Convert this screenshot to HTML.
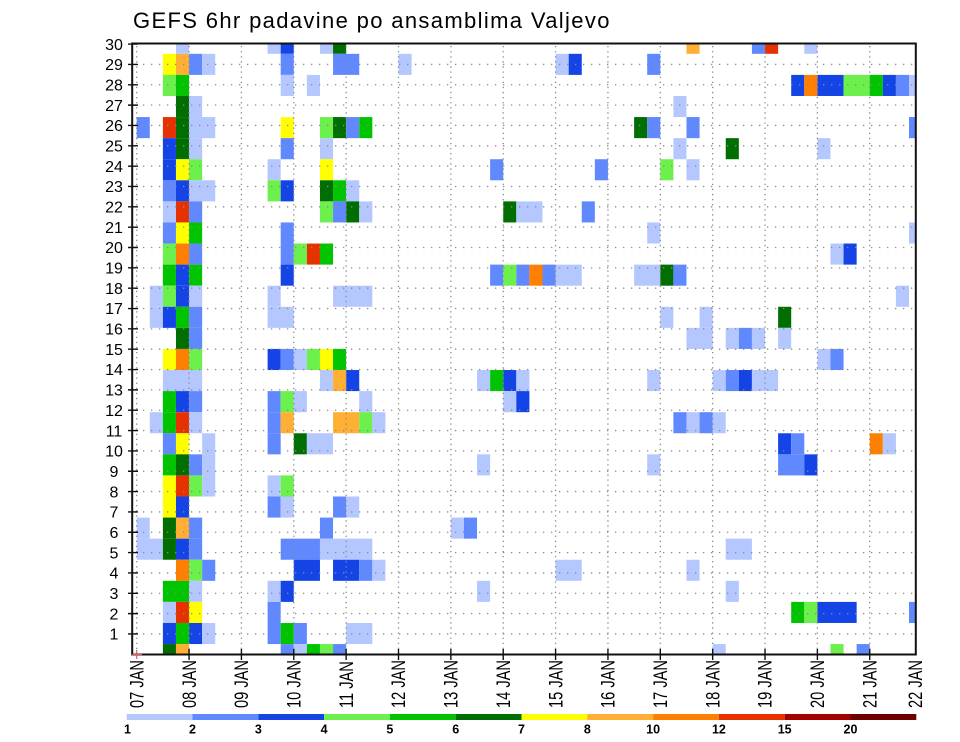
<!DOCTYPE html>
<html><head><meta charset="utf-8">
<style>
html,body{margin:0;padding:0;background:#fff;}
svg{display:block;}
.L{fill:#b4c8ff}.M{fill:#6088ff}.D{fill:#1444e6}.g{fill:#6cf04c}.G{fill:#00c400}.K{fill:#006e00}
.Y{fill:#ffff00}.O{fill:#ffb034}.R{fill:#ff8000}.E{fill:#e63200}.F{fill:#a50000}.Z{fill:#6e0000}
text{font-family:"Liberation Sans",Arial,sans-serif;fill:#000;}
</style></head>
<body>
<svg width="960" height="742" viewBox="0 0 960 742" xmlns="http://www.w3.org/2000/svg">
<defs><clipPath id="pc"><rect x="132" y="43.5" width="784" height="611"/></clipPath></defs>
<rect width="960" height="742" fill="#fff"/>
<text x="133" y="28" font-size="22" letter-spacing="1.35">GEFS 6hr padavine po ansamblima Valjevo</text>

<g clip-path="url(#pc)">
<g transform="translate(136.7,644.06) scale(13.09,21.08)">
<!-- j29 -->
<rect x="3" y="-29" width="1" height="1" class="L"/><rect x="10" y="-29" width="1" height="1" class="L"/><rect x="11" y="-29" width="1" height="1" class="D"/><rect x="14" y="-29" width="1" height="1" class="L"/><rect x="15" y="-29" width="1" height="1" class="K"/><rect x="42" y="-29" width="1" height="1" class="O"/><rect x="47" y="-29" width="1" height="1" class="M"/><rect x="48" y="-29" width="1" height="1" class="E"/><rect x="51" y="-29" width="1" height="1" class="L"/>
<!-- j28 -->
<rect x="2" y="-28" width="1" height="1" class="Y"/><rect x="3" y="-28" width="1" height="1" class="O"/><rect x="4" y="-28" width="1" height="1" class="M"/><rect x="5" y="-28" width="1" height="1" class="L"/><rect x="11" y="-28" width="1" height="1" class="M"/><rect x="15" y="-28" width="2" height="1" class="M"/><rect x="20" y="-28" width="1" height="1" class="L"/><rect x="32" y="-28" width="1" height="1" class="L"/><rect x="33" y="-28" width="1" height="1" class="D"/><rect x="39" y="-28" width="1" height="1" class="M"/>
<!-- j27 -->
<rect x="2" y="-27" width="1" height="1" class="g"/><rect x="3" y="-27" width="1" height="1" class="G"/><rect x="11" y="-27" width="1" height="1" class="L"/><rect x="13" y="-27" width="1" height="1" class="L"/><rect x="50" y="-27" width="1" height="1" class="D"/><rect x="51" y="-27" width="1" height="1" class="R"/><rect x="52" y="-27" width="2" height="1" class="D"/><rect x="54" y="-27" width="2" height="1" class="g"/><rect x="56" y="-27" width="1" height="1" class="G"/><rect x="57" y="-27" width="1" height="1" class="D"/><rect x="58" y="-27" width="1" height="1" class="M"/><rect x="59" y="-27" width="1" height="1" class="L"/>
<!-- j26 -->
<rect x="3" y="-26" width="1" height="1" class="K"/><rect x="4" y="-26" width="1" height="1" class="L"/><rect x="41" y="-26" width="1" height="1" class="L"/>
<!-- j25 -->
<rect x="0" y="-25" width="1" height="1" class="M"/><rect x="2" y="-25" width="1" height="1" class="E"/><rect x="3" y="-25" width="1" height="1" class="K"/><rect x="4" y="-25" width="2" height="1" class="L"/><rect x="11" y="-25" width="1" height="1" class="Y"/><rect x="14" y="-25" width="1" height="1" class="g"/><rect x="15" y="-25" width="1" height="1" class="K"/><rect x="16" y="-25" width="1" height="1" class="M"/><rect x="17" y="-25" width="1" height="1" class="G"/><rect x="38" y="-25" width="1" height="1" class="K"/><rect x="39" y="-25" width="1" height="1" class="M"/><rect x="42" y="-25" width="1" height="1" class="M"/><rect x="59" y="-25" width="1" height="1" class="M"/>
<!-- j24 -->
<rect x="2" y="-24" width="1" height="1" class="D"/><rect x="3" y="-24" width="1" height="1" class="K"/><rect x="4" y="-24" width="1" height="1" class="L"/><rect x="11" y="-24" width="1" height="1" class="M"/><rect x="14" y="-24" width="1" height="1" class="L"/><rect x="41" y="-24" width="1" height="1" class="L"/><rect x="45" y="-24" width="1" height="1" class="K"/><rect x="52" y="-24" width="1" height="1" class="L"/>
<!-- j23 -->
<rect x="2" y="-23" width="1" height="1" class="D"/><rect x="3" y="-23" width="1" height="1" class="Y"/><rect x="4" y="-23" width="1" height="1" class="g"/><rect x="10" y="-23" width="1" height="1" class="L"/><rect x="14" y="-23" width="1" height="1" class="Y"/><rect x="27" y="-23" width="1" height="1" class="M"/><rect x="35" y="-23" width="1" height="1" class="M"/><rect x="40" y="-23" width="1" height="1" class="g"/><rect x="42" y="-23" width="1" height="1" class="L"/>
<!-- j22 -->
<rect x="2" y="-22" width="1" height="1" class="M"/><rect x="3" y="-22" width="1" height="1" class="D"/><rect x="4" y="-22" width="2" height="1" class="L"/><rect x="10" y="-22" width="1" height="1" class="g"/><rect x="11" y="-22" width="1" height="1" class="D"/><rect x="14" y="-22" width="1" height="1" class="K"/><rect x="15" y="-22" width="1" height="1" class="G"/><rect x="16" y="-22" width="1" height="1" class="L"/>
<!-- j21 -->
<rect x="2" y="-21" width="1" height="1" class="L"/><rect x="3" y="-21" width="1" height="1" class="E"/><rect x="4" y="-21" width="1" height="1" class="M"/><rect x="14" y="-21" width="1" height="1" class="g"/><rect x="15" y="-21" width="1" height="1" class="M"/><rect x="16" y="-21" width="1" height="1" class="K"/><rect x="17" y="-21" width="1" height="1" class="L"/><rect x="28" y="-21" width="1" height="1" class="K"/><rect x="29" y="-21" width="2" height="1" class="L"/><rect x="34" y="-21" width="1" height="1" class="M"/>
<!-- j20 -->
<rect x="2" y="-20" width="1" height="1" class="M"/><rect x="3" y="-20" width="1" height="1" class="Y"/><rect x="4" y="-20" width="1" height="1" class="G"/><rect x="11" y="-20" width="1" height="1" class="M"/><rect x="39" y="-20" width="1" height="1" class="L"/><rect x="59" y="-20" width="1" height="1" class="L"/>
<!-- j19 -->
<rect x="2" y="-19" width="1" height="1" class="g"/><rect x="3" y="-19" width="1" height="1" class="R"/><rect x="4" y="-19" width="1" height="1" class="M"/><rect x="11" y="-19" width="1" height="1" class="M"/><rect x="12" y="-19" width="1" height="1" class="g"/><rect x="13" y="-19" width="1" height="1" class="E"/><rect x="14" y="-19" width="1" height="1" class="G"/><rect x="53" y="-19" width="1" height="1" class="L"/><rect x="54" y="-19" width="1" height="1" class="D"/>
<!-- j18 -->
<rect x="2" y="-18" width="1" height="1" class="G"/><rect x="3" y="-18" width="1" height="1" class="D"/><rect x="4" y="-18" width="1" height="1" class="G"/><rect x="11" y="-18" width="1" height="1" class="D"/><rect x="27" y="-18" width="1" height="1" class="M"/><rect x="28" y="-18" width="1" height="1" class="g"/><rect x="29" y="-18" width="1" height="1" class="M"/><rect x="30" y="-18" width="1" height="1" class="R"/><rect x="31" y="-18" width="1" height="1" class="M"/><rect x="32" y="-18" width="2" height="1" class="L"/><rect x="38" y="-18" width="2" height="1" class="L"/><rect x="40" y="-18" width="1" height="1" class="K"/><rect x="41" y="-18" width="1" height="1" class="M"/>
<!-- j17 -->
<rect x="1" y="-17" width="1" height="1" class="L"/><rect x="2" y="-17" width="1" height="1" class="g"/><rect x="3" y="-17" width="1" height="1" class="D"/><rect x="4" y="-17" width="1" height="1" class="L"/><rect x="10" y="-17" width="1" height="1" class="L"/><rect x="15" y="-17" width="3" height="1" class="L"/><rect x="58" y="-17" width="1" height="1" class="L"/>
<!-- j16 -->
<rect x="1" y="-16" width="1" height="1" class="L"/><rect x="2" y="-16" width="1" height="1" class="D"/><rect x="3" y="-16" width="1" height="1" class="G"/><rect x="4" y="-16" width="1" height="1" class="M"/><rect x="10" y="-16" width="2" height="1" class="L"/><rect x="40" y="-16" width="1" height="1" class="L"/><rect x="43" y="-16" width="1" height="1" class="L"/><rect x="49" y="-16" width="1" height="1" class="K"/>
<!-- j15 -->
<rect x="3" y="-15" width="1" height="1" class="K"/><rect x="4" y="-15" width="1" height="1" class="M"/><rect x="42" y="-15" width="2" height="1" class="L"/><rect x="45" y="-15" width="1" height="1" class="L"/><rect x="46" y="-15" width="1" height="1" class="M"/><rect x="47" y="-15" width="1" height="1" class="L"/><rect x="49" y="-15" width="1" height="1" class="L"/>
<!-- j14 -->
<rect x="2" y="-14" width="1" height="1" class="Y"/><rect x="3" y="-14" width="1" height="1" class="R"/><rect x="4" y="-14" width="1" height="1" class="g"/><rect x="10" y="-14" width="1" height="1" class="D"/><rect x="11" y="-14" width="1" height="1" class="M"/><rect x="12" y="-14" width="1" height="1" class="L"/><rect x="13" y="-14" width="1" height="1" class="g"/><rect x="14" y="-14" width="1" height="1" class="Y"/><rect x="15" y="-14" width="1" height="1" class="G"/><rect x="52" y="-14" width="1" height="1" class="L"/><rect x="53" y="-14" width="1" height="1" class="M"/>
<!-- j13 -->
<rect x="2" y="-13" width="3" height="1" class="L"/><rect x="14" y="-13" width="1" height="1" class="L"/><rect x="15" y="-13" width="1" height="1" class="O"/><rect x="16" y="-13" width="1" height="1" class="D"/><rect x="26" y="-13" width="1" height="1" class="L"/><rect x="27" y="-13" width="1" height="1" class="G"/><rect x="28" y="-13" width="1" height="1" class="D"/><rect x="29" y="-13" width="1" height="1" class="L"/><rect x="39" y="-13" width="1" height="1" class="L"/><rect x="44" y="-13" width="1" height="1" class="L"/><rect x="45" y="-13" width="1" height="1" class="M"/><rect x="46" y="-13" width="1" height="1" class="D"/><rect x="47" y="-13" width="2" height="1" class="L"/>
<!-- j12 -->
<rect x="2" y="-12" width="1" height="1" class="G"/><rect x="3" y="-12" width="1" height="1" class="D"/><rect x="4" y="-12" width="1" height="1" class="M"/><rect x="10" y="-12" width="1" height="1" class="M"/><rect x="11" y="-12" width="1" height="1" class="g"/><rect x="12" y="-12" width="1" height="1" class="L"/><rect x="17" y="-12" width="1" height="1" class="L"/><rect x="28" y="-12" width="1" height="1" class="L"/><rect x="29" y="-12" width="1" height="1" class="D"/>
<!-- j11 -->
<rect x="1" y="-11" width="1" height="1" class="L"/><rect x="2" y="-11" width="1" height="1" class="G"/><rect x="3" y="-11" width="1" height="1" class="E"/><rect x="4" y="-11" width="1" height="1" class="L"/><rect x="10" y="-11" width="1" height="1" class="M"/><rect x="11" y="-11" width="1" height="1" class="O"/><rect x="15" y="-11" width="2" height="1" class="O"/><rect x="17" y="-11" width="1" height="1" class="g"/><rect x="18" y="-11" width="1" height="1" class="L"/><rect x="41" y="-11" width="1" height="1" class="M"/><rect x="42" y="-11" width="1" height="1" class="L"/><rect x="43" y="-11" width="1" height="1" class="M"/><rect x="44" y="-11" width="1" height="1" class="L"/>
<!-- j10 -->
<rect x="2" y="-10" width="1" height="1" class="M"/><rect x="3" y="-10" width="1" height="1" class="Y"/><rect x="5" y="-10" width="1" height="1" class="L"/><rect x="10" y="-10" width="1" height="1" class="M"/><rect x="12" y="-10" width="1" height="1" class="K"/><rect x="13" y="-10" width="2" height="1" class="L"/><rect x="49" y="-10" width="1" height="1" class="D"/><rect x="50" y="-10" width="1" height="1" class="M"/><rect x="56" y="-10" width="1" height="1" class="R"/><rect x="57" y="-10" width="1" height="1" class="L"/>
<!-- j9 -->
<rect x="2" y="-9" width="1" height="1" class="G"/><rect x="3" y="-9" width="1" height="1" class="K"/><rect x="4" y="-9" width="1" height="1" class="M"/><rect x="5" y="-9" width="1" height="1" class="L"/><rect x="26" y="-9" width="1" height="1" class="L"/><rect x="39" y="-9" width="1" height="1" class="L"/><rect x="49" y="-9" width="2" height="1" class="M"/><rect x="51" y="-9" width="1" height="1" class="D"/>
<!-- j8 -->
<rect x="2" y="-8" width="1" height="1" class="Y"/><rect x="3" y="-8" width="1" height="1" class="E"/><rect x="4" y="-8" width="1" height="1" class="g"/><rect x="5" y="-8" width="1" height="1" class="L"/><rect x="10" y="-8" width="1" height="1" class="L"/><rect x="11" y="-8" width="1" height="1" class="g"/>
<!-- j7 -->
<rect x="2" y="-7" width="1" height="1" class="Y"/><rect x="3" y="-7" width="1" height="1" class="D"/><rect x="10" y="-7" width="1" height="1" class="M"/><rect x="11" y="-7" width="1" height="1" class="L"/><rect x="15" y="-7" width="1" height="1" class="M"/><rect x="16" y="-7" width="1" height="1" class="L"/>
<!-- j6 -->
<rect x="0" y="-6" width="1" height="1" class="L"/><rect x="2" y="-6" width="1" height="1" class="K"/><rect x="3" y="-6" width="1" height="1" class="O"/><rect x="4" y="-6" width="1" height="1" class="M"/><rect x="14" y="-6" width="1" height="1" class="M"/><rect x="24" y="-6" width="1" height="1" class="L"/><rect x="25" y="-6" width="1" height="1" class="M"/>
<!-- j5 -->
<rect x="0" y="-5" width="2" height="1" class="L"/><rect x="2" y="-5" width="1" height="1" class="K"/><rect x="3" y="-5" width="1" height="1" class="D"/><rect x="4" y="-5" width="1" height="1" class="M"/><rect x="11" y="-5" width="3" height="1" class="M"/><rect x="14" y="-5" width="4" height="1" class="L"/><rect x="45" y="-5" width="2" height="1" class="L"/>
<!-- j4 -->
<rect x="3" y="-4" width="1" height="1" class="R"/><rect x="4" y="-4" width="1" height="1" class="g"/><rect x="5" y="-4" width="1" height="1" class="M"/><rect x="12" y="-4" width="2" height="1" class="D"/><rect x="15" y="-4" width="2" height="1" class="D"/><rect x="17" y="-4" width="1" height="1" class="M"/><rect x="18" y="-4" width="1" height="1" class="L"/><rect x="32" y="-4" width="2" height="1" class="L"/><rect x="42" y="-4" width="1" height="1" class="L"/>
<!-- j3 -->
<rect x="2" y="-3" width="2" height="1" class="G"/><rect x="4" y="-3" width="1" height="1" class="L"/><rect x="10" y="-3" width="1" height="1" class="L"/><rect x="11" y="-3" width="1" height="1" class="D"/><rect x="26" y="-3" width="1" height="1" class="L"/><rect x="45" y="-3" width="1" height="1" class="L"/>
<!-- j2 -->
<rect x="2" y="-2" width="1" height="1" class="L"/><rect x="3" y="-2" width="1" height="1" class="E"/><rect x="4" y="-2" width="1" height="1" class="Y"/><rect x="10" y="-2" width="1" height="1" class="M"/><rect x="50" y="-2" width="1" height="1" class="G"/><rect x="51" y="-2" width="1" height="1" class="g"/><rect x="52" y="-2" width="3" height="1" class="D"/><rect x="59" y="-2" width="1" height="1" class="M"/>
<!-- j1 -->
<rect x="2" y="-1" width="1" height="1" class="D"/><rect x="3" y="-1" width="1" height="1" class="G"/><rect x="4" y="-1" width="1" height="1" class="D"/><rect x="5" y="-1" width="1" height="1" class="L"/><rect x="10" y="-1" width="1" height="1" class="M"/><rect x="11" y="-1" width="1" height="1" class="G"/><rect x="12" y="-1" width="1" height="1" class="M"/><rect x="16" y="-1" width="2" height="1" class="L"/>
<!-- j0 -->
<rect x="2" y="0" width="1" height="1" class="K"/><rect x="3" y="0" width="1" height="1" class="O"/><rect x="11" y="0" width="1" height="1" class="M"/><rect x="12" y="0" width="1" height="1" class="L"/><rect x="13" y="0" width="1" height="1" class="G"/><rect x="14" y="0" width="1" height="1" class="g"/><rect x="15" y="0" width="1" height="1" class="M"/><rect x="44" y="0" width="1" height="1" class="L"/><rect x="53" y="0" width="1" height="1" class="g"/><rect x="55" y="0" width="1" height="1" class="M"/>
</g>

<!-- horizontal dotted grid -->
<path fill="none" stroke="#8a8a8a" stroke-width="1.3" stroke-dasharray="1.3 6.7"
d="M135 633.96h780 M135 613.62h780 M135 593.28h780 M135 572.94h780 M135 552.6h780 M135 532.26h780 M135 511.92h780 M135 491.58h780 M135 471.24h780 M135 450.9h780 M135 430.56h780 M135 410.22h780 M135 389.88h780 M135 369.54h780 M135 349.2h780 M135 328.86h780 M135 308.52h780 M135 288.18h780 M135 267.84h780 M135 247.5h780 M135 227.16h780 M135 206.82h780 M135 186.48h780 M135 166.14h780 M135 145.8h780 M135 125.46h780 M135 105.12h780 M135 84.78h780 M135 64.44h780"/>
<!-- vertical dotted grid -->
<path fill="none" stroke="#8a8a8a" stroke-width="1.3" stroke-dasharray="1.3 3.8"
d="M136.7 46v608 M189.06 46v608 M241.42 46v608 M293.78 46v608 M346.14 46v608 M398.5 46v608 M450.86 46v608 M503.22 46v608 M555.58 46v608 M607.94 46v608 M660.3 46v608 M712.66 46v608 M765.02 46v608 M817.38 46v608 M869.74 46v608"/>
</g>

<!-- frame -->
<rect x="132.2" y="43.5" width="783.6" height="611" fill="none" stroke="#111" stroke-width="2"/>
<!-- y ticks -->
<path fill="none" stroke="#111" stroke-width="1.4"
d="M128 633.96h10 M128 613.62h10 M128 593.28h10 M128 572.94h10 M128 552.6h10 M128 532.26h10 M128 511.92h10 M128 491.58h10 M128 471.24h10 M128 450.9h10 M128 430.56h10 M128 410.22h10 M128 389.88h10 M128 369.54h10 M128 349.2h10 M128 328.86h10 M128 308.52h10 M128 288.18h10 M128 267.84h10 M128 247.5h10 M128 227.16h10 M128 206.82h10 M128 186.48h10 M128 166.14h10 M128 145.8h10 M128 125.46h10 M128 105.12h10 M128 84.78h10 M128 64.44h10 M128 44.1h10"/>
<!-- x ticks -->
<path fill="none" stroke="#111" stroke-width="1.4"
d="M189.06 649v11 M241.42 649v11 M293.78 649v11 M346.14 649v11 M398.5 649v11 M450.86 649v11 M503.22 649v11 M555.58 649v11 M607.94 649v11 M660.3 649v11 M712.66 649v11 M765.02 649v11 M817.38 649v11 M869.74 649v11"/>
<path fill="none" stroke="#e06060" stroke-width="1.2" d="M132 654.5h10 M136.7 650v9"/>

<!-- y labels -->
<g font-size="16" text-anchor="middle">
<text x="114" y="639.7">1</text><text x="114" y="619.3">2</text><text x="114" y="599">3</text><text x="114" y="578.6">4</text><text x="114" y="558.3">5</text><text x="114" y="538">6</text><text x="114" y="517.6">7</text><text x="114" y="497.3">8</text><text x="114" y="476.9">9</text><text x="114" y="456.6">10</text><text x="114" y="436.3">11</text><text x="114" y="415.9">12</text><text x="114" y="395.6">13</text><text x="114" y="375.2">14</text><text x="114" y="354.9">15</text><text x="114" y="334.6">16</text><text x="114" y="314.2">17</text><text x="114" y="293.9">18</text><text x="114" y="273.5">19</text><text x="114" y="253.2">20</text><text x="114" y="232.9">21</text><text x="114" y="212.5">22</text><text x="114" y="192.2">23</text><text x="114" y="171.8">24</text><text x="114" y="151.5">25</text><text x="114" y="131.2">26</text><text x="114" y="110.8">27</text><text x="114" y="90.5">28</text><text x="114" y="70.1">29</text><text x="114" y="49.8">30</text>
</g>

<!-- x labels -->
<g font-size="19">
<text transform="translate(143.4,708) rotate(-90) scale(0.77,1)">07 JAN</text>
<text transform="translate(195.8,708) rotate(-90) scale(0.77,1)">08 JAN</text>
<text transform="translate(248.1,708) rotate(-90) scale(0.77,1)">09 JAN</text>
<text transform="translate(300.5,708) rotate(-90) scale(0.77,1)">10 JAN</text>
<text transform="translate(352.8,708) rotate(-90) scale(0.77,1)">11 JAN</text>
<text transform="translate(405.2,708) rotate(-90) scale(0.77,1)">12 JAN</text>
<text transform="translate(457.6,708) rotate(-90) scale(0.77,1)">13 JAN</text>
<text transform="translate(509.9,708) rotate(-90) scale(0.77,1)">14 JAN</text>
<text transform="translate(562.3,708) rotate(-90) scale(0.77,1)">15 JAN</text>
<text transform="translate(614.6,708) rotate(-90) scale(0.77,1)">16 JAN</text>
<text transform="translate(667,708) rotate(-90) scale(0.77,1)">17 JAN</text>
<text transform="translate(719.4,708) rotate(-90) scale(0.77,1)">18 JAN</text>
<text transform="translate(771.7,708) rotate(-90) scale(0.77,1)">19 JAN</text>
<text transform="translate(824.1,708) rotate(-90) scale(0.77,1)">20 JAN</text>
<text transform="translate(876.4,708) rotate(-90) scale(0.77,1)">21 JAN</text>
<text transform="translate(922.2,708) rotate(-90) scale(0.77,1)">22 JAN</text>
</g>

<!-- colorbar -->
<g>
<rect x="126.7" y="714" width="65.8" height="6" class="L"/>
<rect x="192.5" y="714" width="65.8" height="6" class="M"/>
<rect x="258.3" y="714" width="65.8" height="6" class="D"/>
<rect x="324.1" y="714" width="65.8" height="6" class="g"/>
<rect x="389.9" y="714" width="65.8" height="6" class="G"/>
<rect x="455.7" y="714" width="65.8" height="6" class="K"/>
<rect x="521.5" y="714" width="65.8" height="6" class="Y"/>
<rect x="587.3" y="714" width="65.8" height="6" class="O"/>
<rect x="653.1" y="714" width="65.8" height="6" class="R"/>
<rect x="718.9" y="714" width="65.8" height="6" class="E"/>
<rect x="784.7" y="714" width="65.8" height="6" class="F"/>
<rect x="850.5" y="714" width="65.8" height="6" class="Z"/>
</g>
<g font-size="12.5" font-weight="bold" text-anchor="middle">
<text x="127.5" y="733.5">1</text><text x="192.5" y="733.5">2</text><text x="258.3" y="733.5">3</text><text x="324.1" y="733.5">4</text><text x="389.9" y="733.5">5</text><text x="455.7" y="733.5">6</text><text x="521.5" y="733.5">7</text><text x="587.3" y="733.5">8</text><text x="653.1" y="733.5">10</text><text x="718.9" y="733.5">12</text><text x="784.7" y="733.5">15</text><text x="850.5" y="733.5">20</text>
</g>
</svg>
</body></html>
